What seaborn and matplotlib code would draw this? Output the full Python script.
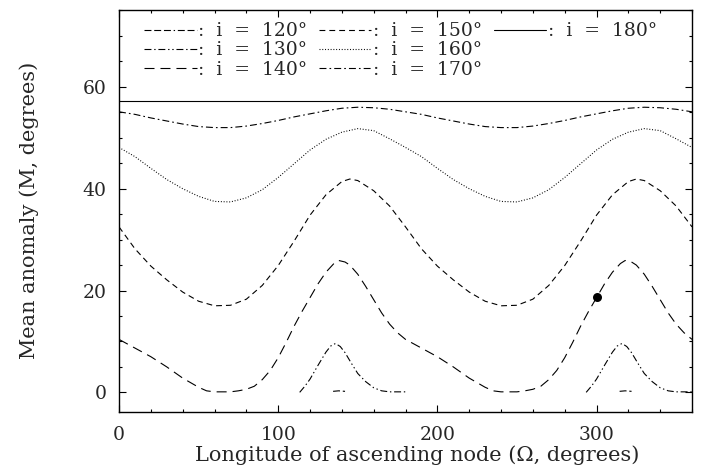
import matplotlib
matplotlib.use("Agg")
import matplotlib.pyplot as plt
from matplotlib.lines import Line2D
from matplotlib.ticker import MultipleLocator
import numpy as np
import pandas as pd
import seaborn as sns

sns.set_style("ticks")
plt.rcParams['font.family'] = ['DejaVu Serif', 'DejaVu Sans']
plt.rcParams['lines.scale_dashes'] = False

# ---------------- data ----------------
# i = 180 deg
omega_180 = [0, 360]
m_180 = [57.3, 57.3]

# i = 170 deg
omega_170 = [0, 10, 20, 30, 40, 50, 60, 70, 80, 90, 100, 110, 120, 130, 140, 150, 160, 170,
             180, 190, 200, 210, 220, 230, 240, 250, 260, 270, 280, 290, 300, 310, 320, 330, 340, 350, 360]
m_170 = [55.1, 54.6, 53.9, 53.3, 52.7, 52.2, 52.0, 52.0, 52.3, 52.8, 53.4, 54.1, 54.7, 55.3, 55.8, 56.0, 55.9, 55.6,
         55.1, 54.6, 53.9, 53.3, 52.7, 52.2, 52.0, 52.0, 52.3, 52.8, 53.4, 54.1, 54.7, 55.3, 55.8, 56.0, 55.9, 55.6, 55.1]

# i = 160 deg
omega_160 = omega_170
m_160 = [48.1, 46.3, 44.0, 41.8, 40.0, 38.5, 37.5, 37.4, 38.2, 39.8, 42.2, 44.9, 47.6, 49.7, 51.1, 51.8, 51.4, 49.8,
         48.1, 46.3, 44.0, 41.8, 40.0, 38.5, 37.5, 37.4, 38.2, 39.8, 42.2, 44.9, 47.6, 49.7, 51.1, 51.8, 51.4, 49.8, 48.1]

# i = 150 deg
omega_150 = [0, 10, 20, 30, 40, 50, 60, 70, 80, 90, 100, 110, 120, 130, 140, 145, 150, 160, 170,
             180, 190, 200, 210, 220, 230, 240, 250, 260, 270, 280, 290, 300, 310, 320, 325, 330, 340, 350, 360]
m_150 = [32.5, 28.2, 24.8, 22.1, 19.7, 17.9, 17.0, 17.1, 18.3, 21.0, 24.9, 29.7, 34.8, 38.8, 41.4, 41.9, 41.6, 39.6, 36.6,
         32.5, 28.2, 24.8, 22.1, 19.7, 17.9, 17.0, 17.1, 18.3, 21.0, 24.9, 29.7, 34.8, 38.8, 41.4, 41.9, 41.6, 39.6, 36.6, 32.5]

# i = 140 deg
omega_140 = [0, 10, 20, 30, 40, 50, 55, 60, 70, 75, 80, 85, 90, 95, 100, 105, 110, 115, 120, 125, 130, 135, 138,
             142, 145, 150, 155, 160, 165, 170, 175,
             180, 190, 200, 210, 220, 230, 235, 240, 250, 255, 260, 265, 270, 275, 280, 285, 290, 295, 300, 305,
             310, 315, 318, 322, 325, 330, 335, 340, 345, 350, 355, 360]
m_140 = [10.4, 8.7, 7.0, 5.0, 2.8, 1.0, 0.3, 0.1, 0.1, 0.3, 0.6, 1.2, 2.5, 4.3, 6.8, 9.8, 13.0, 15.9, 18.6, 21.3,
         23.6, 25.3, 25.9, 25.6, 25.0, 23.2, 20.8, 18.2, 15.6, 13.4, 11.7,
         10.4, 8.7, 7.0, 5.0, 2.8, 1.0, 0.3, 0.1, 0.1, 0.3, 0.6, 1.2, 2.5, 4.3, 6.8, 9.8, 13.0, 15.9, 18.6, 21.3,
         23.6, 25.3, 25.9, 25.6, 25.0, 23.2, 20.8, 18.2, 15.6, 13.4, 11.7, 10.4]

# i = 130 deg (two separate branches)
omega_130 = [113.5, 117, 120, 125, 130, 133, 136, 139, 142, 146, 150, 155, 160, 165, 170, 180,
             293.5, 297, 300, 305, 310, 313, 316, 319, 322, 326, 330, 335, 340, 345, 350, 360]
m_130 = [0.0, 1.3, 2.6, 5.3, 7.9, 9.1, 9.6, 9.0, 7.8, 5.7, 3.7, 2.1, 0.9, 0.3, 0.1, 0.1,
         0.0, 1.3, 2.6, 5.3, 7.9, 9.1, 9.6, 9.0, 7.8, 5.7, 3.7, 2.1, 0.9, 0.3, 0.1, 0.1]
branch_130 = [0] * 16 + [1] * 16

# i = 120 deg (two tiny branches)
omega_120 = [134.5, 138, 142, 314.5, 318, 322]
m_120 = [0.2, 0.3, 0.2, 0.2, 0.3, 0.2]
branch_120 = [0, 0, 0, 1, 1, 1]

# marked point
dot_omega = [300]
dot_m = [18.7]

incl_labels = ["120", "130", "140", "150", "160", "170", "180"]

# ---------------- styles ----------------
styles = {
    "120": (0, (5, 2, 5, 2, 5, 2, 1, 2)),
    "130": (0, (5, 2, 1, 2, 5, 2, 1, 2, 1, 2)),
    "140": (0, (7.2, 4.3)),
    "150": (0, (4.2, 2.9)),
    "160": (0, (0.7, 1.3)),
    "170": (0, (5, 2.2, 1.2, 2.2)),
    "180": "-",
}
LW = 0.8
FS = 13.5
FS_LAB = 15

fig = plt.figure(figsize=(7.03, 4.71), dpi=100)
ax = fig.add_axes([0.1693, 0.1259, 0.8151, 0.8529])

curves = {
    "180": (omega_180, m_180, None),
    "170": (omega_170, m_170, None),
    "160": (omega_160, m_160, None),
    "150": (omega_150, m_150, None),
    "140": (omega_140, m_140, None),
    "130": (omega_130, m_130, branch_130),
    "120": (omega_120, m_120, branch_120),
}
for key, (om, mm, br) in curves.items():
    df = pd.DataFrame({"omega": om, "M": mm,
                       "branch": br if br is not None else [0] * len(om)})
    sns.lineplot(data=df, x="omega", y="M", units="branch", estimator=None,
                 color="black", lw=LW, linestyle=styles[key], ax=ax, legend=False)

sns.scatterplot(x=dot_omega, y=dot_m, color="black", s=42, edgecolor="black",
                linewidth=0, ax=ax, zorder=5)

ax.set_xlim(0, 360)
ax.set_ylim(-3.8, 75.1)
ax.xaxis.set_major_locator(MultipleLocator(100))
ax.xaxis.set_minor_locator(MultipleLocator(20))
ax.yaxis.set_major_locator(MultipleLocator(20))
ax.yaxis.set_minor_locator(MultipleLocator(5))
ax.set_yticks([0, 20, 40, 60])
ax.tick_params(which="both", direction="in", top=True, right=True, width=0.8, color="black")
ax.tick_params(which="major", length=5.2, labelsize=FS)
ax.tick_params(axis="y", which="major", pad=9)
ax.tick_params(axis="x", which="major", pad=10)
ax.tick_params(which="minor", length=2.5)
for s in ax.spines.values():
    s.set_linewidth(1.0)
    s.set_color("black")

ax.set_xlabel("Longitude of ascending node (\u03a9, degrees)", fontsize=FS_LAB, labelpad=0)
ax.set_ylabel("Mean anomaly (M, degrees)", fontsize=FS_LAB, labelpad=31)
ax.xaxis.set_label_coords(0.52, -0.084)

handles = [Line2D([], [], color="black", lw=LW, linestyle=styles[k]) for k in incl_labels]
labels = [":  i  =  %s\u00b0" % k for k in incl_labels]
handles += [Line2D([], [], color="none"), Line2D([], [], color="none")]
labels += ["", ""]
ax.legend(handles, labels, ncol=3, loc="upper left", bbox_to_anchor=(0.0436, 0.969),
          frameon=False, fontsize=FS, handlelength=2.8, handletextpad=0.1,
          columnspacing=0.6, labelspacing=0.055, borderpad=0, borderaxespad=0)

fig.savefig("out.png", dpi=100)
